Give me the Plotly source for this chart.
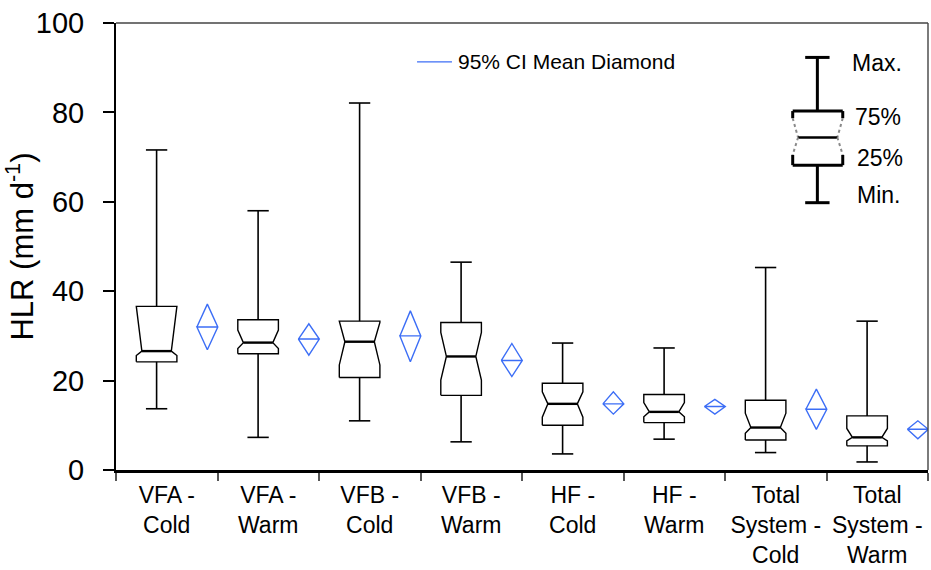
import plotly.graph_objects as go

# ---- data: hydraulic loading rate per unit / season ----
categories = ["VFA -<br>Cold", "VFA -<br>Warm", "VFB -<br>Cold", "VFB -<br>Warm",
              "HF -<br>Cold", "HF -<br>Warm", "Total<br>System -<br>Cold", "Total<br>System -<br>Warm"]
hlr_min = [13.7, 7.3, 11.0, 6.3, 3.6, 6.9, 3.9, 1.8]
hlr_q1 = [24.2, 26.0, 20.7, 16.7, 10.0, 10.6, 6.7, 5.4]
hlr_notch_lo = [25.6, 27.2, 23.5, 20.1, 11.8, 11.9, 8.2, 6.5]
hlr_median = [26.6, 28.5, 28.7, 25.4, 14.8, 13.0, 9.5, 7.3]
hlr_notch_hi = [36.6, 31.3, 33.0, 30.8, 17.5, 15.1, 12.7, 9.3]
hlr_q3 = [36.6, 33.6, 33.3, 33.0, 19.4, 16.9, 15.6, 12.1]
hlr_max = [71.6, 58.0, 82.1, 46.5, 28.4, 27.3, 45.3, 33.3]
hlr_mean = [32.0, 29.3, 30.0, 24.5, 14.8, 14.2, 13.6, 9.1]
ci_lo = [26.9, 25.7, 24.2, 20.9, 12.5, 12.5, 9.1, 7.0]
ci_hi = [37.1, 32.7, 35.6, 28.3, 17.5, 15.8, 18.1, 11.0]
y_ticks = [0, 20, 40, 60, 80, 100]

# ---- geometry (in category units) ----
BOX_POS, BOX_HALF, CAP_HALF, NOTCH_IN = 0.4, 0.2, 0.105, 0.055
DIA_POS, DIA_HALF = 0.9, 0.103
BLUE = "#3c6ef6"
FONT = "Arial, Liberation Sans, sans-serif"

ox, oy, mx, my, wx, wy, dx, dy = [], [], [], [], [], [], [], []
for i in range(len(categories)):
    c = i + BOX_POS
    l, r = c - BOX_HALF, c + BOX_HALF
    q1, nl, md, nh, q3 = hlr_q1[i], hlr_notch_lo[i], hlr_median[i], hlr_notch_hi[i], hlr_q3[i]
    ox += [l, l, l + NOTCH_IN, l, l, r, r, r - NOTCH_IN, r, r, l, None]
    oy += [q1, nl, md, nh, q3, q3, nh, md, nl, q1, q1, None]
    mx += [l + NOTCH_IN, r - NOTCH_IN, None]
    my += [md, md, None]
    wx += [c, c, None, c - CAP_HALF, c + CAP_HALF, None, c, c, None, c - CAP_HALF, c + CAP_HALF, None]
    wy += [q3, hlr_max[i], None, hlr_max[i], hlr_max[i], None,
           q1, hlr_min[i], None, hlr_min[i], hlr_min[i], None]
    d = i + DIA_POS
    dx += [d - DIA_HALF, d, d + DIA_HALF, d, d - DIA_HALF, d + DIA_HALF, None]
    dy += [hlr_mean[i], ci_hi[i], hlr_mean[i], ci_lo[i], hlr_mean[i], hlr_mean[i], None]

fig = go.Figure()
fig.add_trace(go.Scatter(x=wx, y=wy, mode="lines", line=dict(color="black", width=1.6),
                         hoverinfo="skip", showlegend=False))
fig.add_trace(go.Scatter(x=ox, y=oy, mode="lines", line=dict(color="black", width=1.4),
                         hoverinfo="skip", showlegend=False))
fig.add_trace(go.Scatter(x=mx, y=my, mode="lines", line=dict(color="black", width=2.4),
                         hoverinfo="skip", showlegend=False))
fig.add_trace(go.Scatter(x=dx, y=dy, mode="lines", line=dict(color=BLUE, width=1.4),
                         hoverinfo="skip", showlegend=False, cliponaxis=False))
# carrier trace for the label axis
fig.add_trace(go.Scatter(x=[None], y=[None], xaxis="x2", showlegend=False, hoverinfo="skip"))

n = len(categories)
shapes = [
    # top and right frame
    dict(type="line", xref="paper", yref="paper", x0=0, x1=1, y0=1, y1=1,
         line=dict(color="#444", width=1.6)),
    dict(type="line", xref="paper", yref="paper", x0=1, x1=1, y0=0, y1=1,
         line=dict(color="#444", width=1.4)),
    # legend sample line
    dict(type="line", xref="x", yref="y", x0=2.966, x1=3.31, y0=91.3, y1=91.3,
         line=dict(color=BLUE, width=1.4)),
]
# box-plot key
K = dict(color="black", width=3)
G = dict(color="#8a8a8a", width=2, dash="dot")
kl, kr, kc = 6.667, 7.16, 6.91
kin = 0.053
key_lines = [
    (6.79, 92.3, 7.03, 92.3, K), (kc, 92.3, kc, 80.3, K),
    (kl, 80.3, kr, 80.3, K), (kl, 80.3, kl, 78.7, K), (kr, 80.3, kr, 78.7, K),
    (kl, 78.7, kl + kin, 74.4, G), (kr, 78.7, kr - kin, 74.4, G),
    (kl + kin, 74.4, kr - kin, 74.4, dict(color="black", width=2.4)),
    (kl + kin, 74.4, kl, 70.5, G), (kr - kin, 74.4, kr, 70.5, G),
    (kl, 70.5, kl, 68.2, K), (kr, 70.5, kr, 68.2, K), (kl, 68.2, kr, 68.2, K),
    (kc, 68.2, kc, 59.8, K), (6.79, 59.8, 7.03, 59.8, K),
]
for x0, y0, x1, y1, ln in key_lines:
    shapes.append(dict(type="line", xref="x", yref="y", x0=x0, y0=y0, x1=x1, y1=y1, line=ln))

annotations = [
    dict(x=3.35, y=91.3, text="95% CI Mean Diamond", font=dict(size=21)),
    dict(x=7.23, y=91.0, text="Max.", font=dict(size=23)),
    dict(x=7.26, y=79.0, text="75%", font=dict(size=23)),
    dict(x=7.28, y=69.9, text="25%", font=dict(size=23)),
    dict(x=7.28, y=61.5, text="Min.", font=dict(size=23)),
]
for a in annotations:
    a.update(xref="x", yref="y", xanchor="left", yanchor="middle", showarrow=False)
    a["font"].update(color="black", family=FONT)

fig.update_layout(
    width=931, height=570,
    margin=dict(l=116, r=3, t=23, b=100, autoexpand=False),
    paper_bgcolor="white", plot_bgcolor="white",
    font=dict(family=FONT, color="black"),
    shapes=shapes, annotations=annotations,
    xaxis=dict(range=[0, n], tickvals=list(range(n + 1)), showticklabels=False,
               ticks="outside", ticklen=8, tickwidth=1.5, tickcolor="#555",
               showline=True, linecolor="black", linewidth=2.5, automargin=False,
               showgrid=False, zeroline=False, fixedrange=True),
    xaxis2=dict(range=[0, n], overlaying="x", anchor="y", side="bottom",
                tickvals=[i + 0.5 for i in range(n)], ticktext=categories,
                ticks="", tickfont=dict(size=23, family=FONT, color="black"),
                showline=False, showgrid=False, zeroline=False, ticklabelstandoff=9,
                automargin=False),
    yaxis=dict(range=[0, 100], tickvals=y_ticks, ticks="outside", ticklen=11,
               tickwidth=1.5, tickcolor="black",
               tickfont=dict(size=29, family=FONT, color="black"),
               showline=True, linecolor="black", linewidth=2, automargin=False,
               showgrid=False, zeroline=False, ticklabelstandoff=13,
               title=dict(text="HLR (mm d<sup>-1</sup>)", font=dict(size=31, family=FONT),
                          standoff=2)),
)

fig.write_html("out.html")
